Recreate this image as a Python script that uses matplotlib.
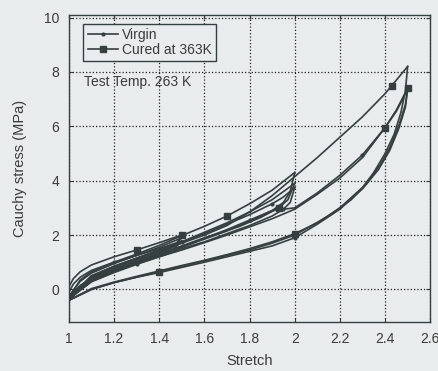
import matplotlib
matplotlib.use("Agg")
import matplotlib.pyplot as plt
import matplotlib.ticker as ticker

# Cured at 363K: load / unload branches (stretch, Cauchy stress MPa)
cured_x = [
    [1.0, 1.02, 1.05, 1.1, 1.2, 1.3, 1.4, 1.5],
    [1.5, 1.47, 1.4, 1.3, 1.2, 1.1, 1.05, 1.0],
    [1.0, 1.05, 1.1, 1.2, 1.3, 1.4, 1.5],
    [1.5, 1.46, 1.4, 1.3, 1.2, 1.1, 1.0],
    [1.0, 1.05, 1.1, 1.2, 1.3, 1.4, 1.5, 1.6, 1.7, 1.8, 1.9, 2.0],
    [2.0, 1.98, 1.95, 1.9, 1.8, 1.7, 1.6, 1.5, 1.4, 1.3, 1.2, 1.1, 1.0],
    [1.0, 1.1, 1.2, 1.3, 1.4, 1.5, 1.6, 1.7, 1.8, 1.9, 2.0],
    [2.0, 1.97, 1.93, 1.85, 1.75, 1.6, 1.5, 1.4, 1.3, 1.2, 1.1, 1.0],
    [1.0, 1.1, 1.2, 1.3, 1.4, 1.5, 1.6, 1.7, 1.8, 1.9, 1.95, 2.0, 2.1, 2.2, 2.3, 2.4, 2.43, 2.5],
    [2.5, 2.49, 2.47, 2.44, 2.4, 2.35, 2.3, 2.2, 2.1, 2.0, 1.9, 1.8, 1.7, 1.6, 1.5, 1.4, 1.3, 1.2, 1.1, 1.0],
    [1.0, 1.1, 1.2, 1.3, 1.4, 1.5, 1.6, 1.7, 1.8, 1.9, 2.0, 2.1, 2.2, 2.3, 2.4, 2.45, 2.5],
    [2.5, 2.49, 2.46, 2.42, 2.38, 2.32, 2.25, 2.15, 2.0, 1.9, 1.8, 1.6, 1.4, 1.2, 1.1, 1.0],
]
cured_y = [
    [0.1, 0.4, 0.65, 0.9, 1.2, 1.45, 1.72, 2.0],
    [2.0, 1.6, 1.35, 1.05, 0.75, 0.4, 0.15, -0.25],
    [-0.25, 0.3, 0.6, 0.95, 1.25, 1.55, 1.9],
    [1.9, 1.55, 1.32, 1.0, 0.7, 0.38, -0.3],
    [-0.3, 0.35, 0.65, 1.0, 1.3, 1.62, 1.98, 2.32, 2.7, 3.15, 3.65, 4.3],
    [4.3, 3.6, 3.2, 2.9, 2.5, 2.15, 1.85, 1.55, 1.25, 0.95, 0.65, 0.3, -0.35],
    [-0.35, 0.5, 0.85, 1.15, 1.45, 1.75, 2.1, 2.45, 2.85, 3.3, 3.9],
    [3.9, 3.3, 3.0, 2.65, 2.3, 1.9, 1.6, 1.3, 1.0, 0.7, 0.35, -0.35],
    [-0.35, 0.45, 0.8, 1.1, 1.4, 1.7, 2.0, 2.35, 2.85, 3.45, 3.8, 4.15, 4.85, 5.6, 6.35, 7.2, 7.5, 8.2],
    [8.2, 7.3, 6.5, 5.7, 5.0, 4.3, 3.75, 3.0, 2.45, 2.05, 1.75, 1.5, 1.28, 1.07, 0.88, 0.68, 0.48, 0.27, 0.03, -0.4],
    [-0.4, 0.4, 0.7, 0.95, 1.2, 1.45, 1.72, 2.0, 2.3, 2.6, 2.95, 3.5, 4.1, 4.85, 5.95, 6.6, 7.4],
    [7.4, 6.8, 6.0, 5.2, 4.6, 3.9, 3.3, 2.7, 2.0, 1.7, 1.45, 1.05, 0.65, 0.25, 0.0, -0.4],
]
cured_marks = [[5, 7], [], [], [], [8], [], [], [2], [16], [9], [14, 16], [12]]

# Virgin
virgin_x = [
    [1.0, 1.02, 1.05, 1.1, 1.2, 1.3, 1.4, 1.5],
    [1.5, 1.46, 1.4, 1.3, 1.2, 1.1, 1.0],
    [1.0, 1.1, 1.2, 1.3, 1.4, 1.5, 1.6, 1.7, 1.8, 1.9, 1.95, 2.0],
    [2.0, 1.98, 1.95, 1.9, 1.8, 1.7, 1.6, 1.5, 1.4, 1.3, 1.2, 1.1, 1.0],
    [1.0, 1.1, 1.2, 1.3, 1.4, 1.5, 1.6, 1.7, 1.8, 1.9, 2.0, 2.1, 2.2, 2.3, 2.4, 2.45, 2.5],
    [2.5, 2.49, 2.46, 2.42, 2.37, 2.3, 2.2, 2.1, 2.0, 1.9, 1.8, 1.6, 1.4, 1.3, 1.2, 1.1, 1.0],
]
virgin_y = [
    [-0.1, 0.2, 0.45, 0.7, 1.0, 1.25, 1.5, 1.78],
    [1.78, 1.45, 1.25, 0.95, 0.65, 0.3, -0.3],
    [-0.3, 0.5, 0.85, 1.15, 1.45, 1.75, 2.05, 2.4, 2.75, 3.15, 3.4, 3.75],
    [3.75, 3.2, 2.95, 2.7, 2.35, 2.05, 1.75, 1.5, 1.2, 0.92, 0.62, 0.28, -0.35],
    [-0.35, 0.42, 0.75, 1.02, 1.3, 1.58, 1.88, 2.2, 2.55, 2.9, 3.0, 3.55, 4.2, 4.95, 5.95, 6.55, 7.35],
    [7.35, 6.7, 5.9, 5.1, 4.4, 3.7, 2.95, 2.4, 1.9, 1.6, 1.4, 1.0, 0.62, 0.45, 0.25, 0.0, -0.4],
]
virgin_marks = [[4], [3], [5, 9], [2], [8, 13], [8]]

bg = "#e9ecec"
lc = "#353f40"
tc = "#3a3a3a"

plt.rcParams['font.family'] = ['Liberation Sans', 'DejaVu Sans']
fig = plt.figure(figsize=(4.39, 3.71), dpi=100, facecolor=bg)
ax = fig.add_axes([0.157, 0.132, 0.823, 0.828])
ax.set_facecolor(bg)

for i, (x, y) in enumerate(zip(virgin_x, virgin_y)):
    ax.plot(x, y, color=lc, lw=1.2, marker='.', ms=4, markevery=virgin_marks[i],
            label='Virgin' if i == 0 else None)
for i, (x, y) in enumerate(zip(cured_x, cured_y)):
    ax.plot(x, y, color=lc, lw=1.2, marker='s', ms=4, markevery=cured_marks[i],
            label='Cured at 363K' if i == 0 else None)

ax.set_xlim(1, 2.6)
ax.set_ylim(-1.2, 10.1)
ax.xaxis.set_major_locator(ticker.MultipleLocator(0.2))
ax.yaxis.set_major_locator(ticker.MultipleLocator(2))
ax.xaxis.set_major_formatter(ticker.FuncFormatter(lambda v, p: f"{v:g}"))
ax.grid(True, color='#222222', ls=':', lw=0.9)
ax.tick_params(direction='in', top=True, right=True, labelsize=10, colors=tc, length=3, pad=7)
for s in ax.spines.values():
    s.set_color(lc)
    s.set_linewidth(1.0)

ax.set_xlabel("Stretch", fontsize=10.5, color=tc, labelpad=6)
ax.set_ylabel("Cauchy stress (MPa)", fontsize=10.5, color=tc, labelpad=12)

leg = ax.legend(loc='upper left', bbox_to_anchor=(0.04, 0.97), borderaxespad=0,
                fancybox=False, fontsize=10, handlelength=2.2, handletextpad=0.3,
                labelspacing=0.05, borderpad=0.3, facecolor=bg, framealpha=1)
leg.get_frame().set_edgecolor(lc)
leg.get_frame().set_linewidth(1.0)
for t in leg.get_texts():
    t.set_color(tc)

ax.text(0.043, 0.78, "Test Temp. 263 K", transform=ax.transAxes, fontsize=10,
        color=tc, va='center', ha='left')

fig.savefig("out.png", dpi=100, facecolor=bg)
